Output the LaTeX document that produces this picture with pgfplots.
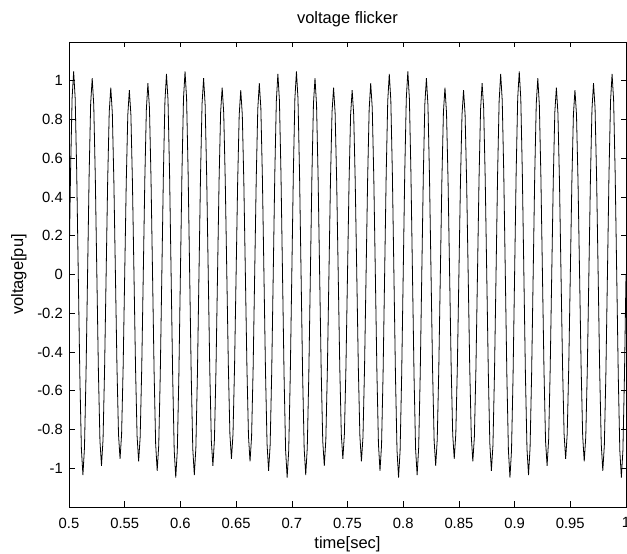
\documentclass[border=0pt]{standalone}
\usepackage{fontspec}
\setmainfont{Liberation Sans}
\usepackage{pgfplots}
\pgfplotsset{compat=1.18}

\begin{document}
\begin{tikzpicture}
\path[use as bounding box, fill=white] (0pt,0pt) rectangle (627pt,554pt);
\begin{axis}[
    at={(69pt,47pt)}, anchor=south west,
    scale only axis,
    width=557pt, height=465pt,
    xmin=0.5, xmax=1,
    ymin=-1.2, ymax=1.2,
    xtick={0.5,0.55,0.6,0.65,0.7,0.75,0.8,0.85,0.9,0.95,1},
    xticklabels={0.5,0.55,0.6,0.65,0.7,0.75,0.8,0.85,0.9,0.95,1},
    ytick={-1,-0.8,-0.6,-0.4,-0.2,0,0.2,0.4,0.6,0.8,1},
    yticklabels={-1,-0.8,-0.6,-0.4,-0.2,0,0.2,0.4,0.6,0.8,1},
    tick align=inside,
    major tick length=5.5pt,
    every tick/.style={black, line width=0.6pt},
    axis line style={black, line width=0.8pt},
    tick label style={font=\fontsize{14.8}{17}\selectfont},
    xticklabel style={anchor=north, inner sep=0pt, yshift=-10.5pt},
    yticklabel style={anchor=east, inner sep=0pt, xshift=-6pt},
    label style={font=\fontsize{16.5}{19}\selectfont},
    title style={font=\fontsize{16.5}{19}\selectfont},
    title={voltage flicker},
    title style={at={(axis description cs:0.5,1.0262)}, anchor=base, inner sep=0pt},
    xlabel={time[sec]},
    xlabel style={at={(axis description cs:0.5,-0.064)}, anchor=north, inner sep=0pt},
    ylabel={voltage[pu]},
    ylabel style={at={(axis description cs:-0.0898,0.5)}, anchor=center, inner sep=0pt},
]

% 60 Hz carrier, 10 Hz amplitude flicker (peaks)
\addplot[black, line width=0.8pt] coordinates {
(0.50000,0) (0.50139,0.525) (0.50278,0.909) (0.50417,1.048) (0.50556,0.907) (0.50694,0.523)
(0.50833,0) (0.50972,-0.520) (0.51111,-0.899) (0.51250,-1.035) (0.51389,-0.894) (0.51528,-0.514)
(0.51667,0) (0.51806,0.511) (0.51944,0.881) (0.52083,1.013) (0.52222,0.874) (0.52361,0.502)
(0.52500,0) (0.52639,-0.498) (0.52778,-0.859) (0.52917,-0.987) (0.53056,-0.851) (0.53194,-0.489)
(0.53333,0) (0.53472,0.486) (0.53611,0.838) (0.53750,0.965) (0.53889,0.833) (0.54028,0.480)
(0.54167,0) (0.54306,-0.477) (0.54444,-0.825) (0.54583,-0.952) (0.54722,-0.823) (0.54861,-0.475)
(0.55000,0) (0.55139,0.475) (0.55278,0.823) (0.55417,0.952) (0.55556,0.825) (0.55694,0.477)
(0.55833,0) (0.55972,-0.480) (0.56111,-0.833) (0.56250,-0.965) (0.56389,-0.838) (0.56528,-0.486)
(0.56667,0) (0.56806,0.489) (0.56944,0.851) (0.57083,0.987) (0.57222,0.859) (0.57361,0.498)
(0.57500,0) (0.57639,-0.502) (0.57778,-0.874) (0.57917,-1.013) (0.58056,-0.881) (0.58194,-0.511)
(0.58333,0) (0.58472,0.514) (0.58611,0.894) (0.58750,1.035) (0.58889,0.899) (0.59028,0.520)
(0.59167,0) (0.59306,-0.523) (0.59444,-0.907) (0.59583,-1.048) (0.59722,-0.909) (0.59861,-0.525)
(0.60000,0) (0.60139,0.525) (0.60278,0.909) (0.60417,1.048) (0.60556,0.907) (0.60694,0.523)
(0.60833,0) (0.60972,-0.520) (0.61111,-0.899) (0.61250,-1.035) (0.61389,-0.894) (0.61528,-0.514)
(0.61667,0) (0.61806,0.511) (0.61944,0.881) (0.62083,1.013) (0.62222,0.874) (0.62361,0.502)
(0.62500,0) (0.62639,-0.498) (0.62778,-0.859) (0.62917,-0.987) (0.63056,-0.851) (0.63194,-0.489)
(0.63333,0) (0.63472,0.486) (0.63611,0.838) (0.63750,0.965) (0.63889,0.833) (0.64028,0.480)
(0.64167,0) (0.64306,-0.477) (0.64444,-0.825) (0.64583,-0.952) (0.64722,-0.823) (0.64861,-0.475)
(0.65000,0) (0.65139,0.475) (0.65278,0.823) (0.65417,0.952) (0.65556,0.825) (0.65694,0.477)
(0.65833,0) (0.65972,-0.480) (0.66111,-0.833) (0.66250,-0.965) (0.66389,-0.838) (0.66528,-0.486)
(0.66667,0) (0.66806,0.489) (0.66944,0.851) (0.67083,0.987) (0.67222,0.859) (0.67361,0.498)
(0.67500,0) (0.67639,-0.502) (0.67778,-0.874) (0.67917,-1.013) (0.68056,-0.881) (0.68194,-0.511)
(0.68333,0) (0.68472,0.514) (0.68611,0.894) (0.68750,1.035) (0.68889,0.899) (0.69028,0.520)
(0.69167,0) (0.69306,-0.523) (0.69444,-0.907) (0.69583,-1.048) (0.69722,-0.909) (0.69861,-0.525)
(0.70000,0) (0.70139,0.525) (0.70278,0.909) (0.70417,1.048) (0.70556,0.907) (0.70694,0.523)
(0.70833,0) (0.70972,-0.520) (0.71111,-0.899) (0.71250,-1.035) (0.71389,-0.894) (0.71528,-0.514)
(0.71667,0) (0.71806,0.511) (0.71944,0.881) (0.72083,1.013) (0.72222,0.874) (0.72361,0.502)
(0.72500,0) (0.72639,-0.498) (0.72778,-0.859) (0.72917,-0.987) (0.73056,-0.851) (0.73194,-0.489)
(0.73333,0) (0.73472,0.486) (0.73611,0.838) (0.73750,0.965) (0.73889,0.833) (0.74028,0.480)
(0.74167,0) (0.74306,-0.477) (0.74444,-0.825) (0.74583,-0.952) (0.74722,-0.823) (0.74861,-0.475)
(0.75000,0) (0.75139,0.475) (0.75278,0.823) (0.75417,0.952) (0.75556,0.825) (0.75694,0.477)
(0.75833,0) (0.75972,-0.480) (0.76111,-0.833) (0.76250,-0.965) (0.76389,-0.838) (0.76528,-0.486)
(0.76667,0) (0.76806,0.489) (0.76944,0.851) (0.77083,0.987) (0.77222,0.859) (0.77361,0.498)
(0.77500,0) (0.77639,-0.502) (0.77778,-0.874) (0.77917,-1.013) (0.78056,-0.881) (0.78194,-0.511)
(0.78333,0) (0.78472,0.514) (0.78611,0.894) (0.78750,1.035) (0.78889,0.899) (0.79028,0.520)
(0.79167,0) (0.79306,-0.523) (0.79444,-0.907) (0.79583,-1.048) (0.79722,-0.909) (0.79861,-0.525)
(0.80000,0) (0.80139,0.525) (0.80278,0.909) (0.80417,1.048) (0.80556,0.907) (0.80694,0.523)
(0.80833,0) (0.80972,-0.520) (0.81111,-0.899) (0.81250,-1.035) (0.81389,-0.894) (0.81528,-0.514)
(0.81667,0) (0.81806,0.511) (0.81944,0.881) (0.82083,1.013) (0.82222,0.874) (0.82361,0.502)
(0.82500,0) (0.82639,-0.498) (0.82778,-0.859) (0.82917,-0.987) (0.83056,-0.851) (0.83194,-0.489)
(0.83333,0) (0.83472,0.486) (0.83611,0.838) (0.83750,0.965) (0.83889,0.833) (0.84028,0.480)
(0.84167,0) (0.84306,-0.477) (0.84444,-0.825) (0.84583,-0.952) (0.84722,-0.823) (0.84861,-0.475)
(0.85000,0) (0.85139,0.475) (0.85278,0.823) (0.85417,0.952) (0.85556,0.825) (0.85694,0.477)
(0.85833,0) (0.85972,-0.480) (0.86111,-0.833) (0.86250,-0.965) (0.86389,-0.838) (0.86528,-0.486)
(0.86667,0) (0.86806,0.489) (0.86944,0.851) (0.87083,0.987) (0.87222,0.859) (0.87361,0.498)
(0.87500,0) (0.87639,-0.502) (0.87778,-0.874) (0.87917,-1.013) (0.88056,-0.881) (0.88194,-0.511)
(0.88333,0) (0.88472,0.514) (0.88611,0.894) (0.88750,1.035) (0.88889,0.899) (0.89028,0.520)
(0.89167,0) (0.89306,-0.523) (0.89444,-0.907) (0.89583,-1.048) (0.89722,-0.909) (0.89861,-0.525)
(0.90000,0) (0.90139,0.525) (0.90278,0.909) (0.90417,1.048) (0.90556,0.907) (0.90694,0.523)
(0.90833,0) (0.90972,-0.520) (0.91111,-0.899) (0.91250,-1.035) (0.91389,-0.894) (0.91528,-0.514)
(0.91667,0) (0.91806,0.511) (0.91944,0.881) (0.92083,1.013) (0.92222,0.874) (0.92361,0.502)
(0.92500,0) (0.92639,-0.498) (0.92778,-0.859) (0.92917,-0.987) (0.93056,-0.851) (0.93194,-0.489)
(0.93333,0) (0.93472,0.486) (0.93611,0.838) (0.93750,0.965) (0.93889,0.833) (0.94028,0.480)
(0.94167,0) (0.94306,-0.477) (0.94444,-0.825) (0.94583,-0.952) (0.94722,-0.823) (0.94861,-0.475)
(0.95000,0) (0.95139,0.475) (0.95278,0.823) (0.95417,0.952) (0.95556,0.825) (0.95694,0.477)
(0.95833,0) (0.95972,-0.480) (0.96111,-0.833) (0.96250,-0.965) (0.96389,-0.838) (0.96528,-0.486)
(0.96667,0) (0.96806,0.489) (0.96944,0.851) (0.97083,0.987) (0.97222,0.859) (0.97361,0.498)
(0.97500,0) (0.97639,-0.502) (0.97778,-0.874) (0.97917,-1.013) (0.98056,-0.881) (0.98194,-0.511)
(0.98333,0) (0.98472,0.514) (0.98611,0.894) (0.98750,1.035) (0.98889,0.899) (0.99028,0.520)
(0.99167,0) (0.99306,-0.523) (0.99444,-0.907) (0.99583,-1.048) (0.99722,-0.909) (0.99861,-0.525)
(1.00000,0)
};

\end{axis}
\end{tikzpicture}
\end{document}
